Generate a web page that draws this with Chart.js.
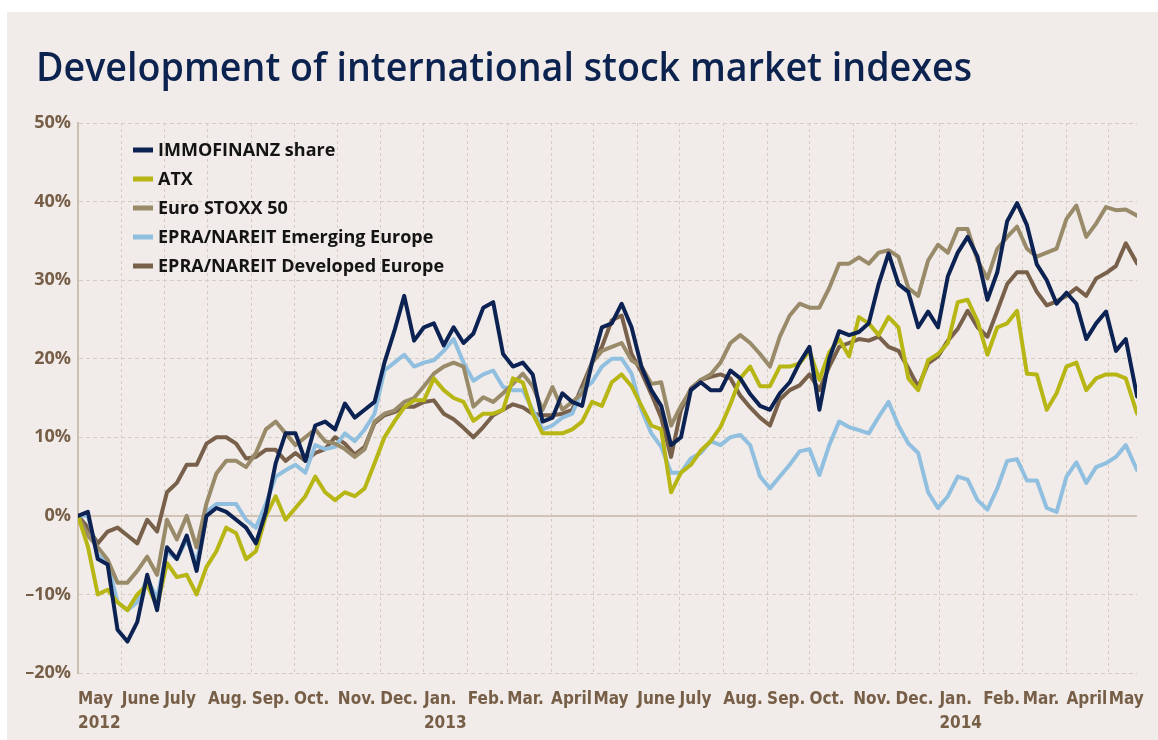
<!DOCTYPE html>
<html>
<head>
<meta charset="utf-8">
<title>Development of international stock market indexes</title>
<script src="https://cdn.jsdelivr.net/npm/chart.js@4.4.1/dist/chart.umd.min.js"></script>
<style>
  html, body { margin: 0; padding: 0; background: #fff; }
  #wrap { width: 1158px; height: 740px; }
</style>
</head>
<body>
<div id="wrap"><canvas id="chart" width="1158" height="740"></canvas></div>
<script>
// Days since 1 May 2012 (roughly weekly samples)
const days = [0,7,14,21,28,35,42,49,56,63,70,77,84,91,98,105,112,119,126,133,140,147,154,161,168,175,182,189,196,203,210,217,224,231,238,245,252,259,266,273,280,287,294,301,308,315,322,329,336,343,350,357,364,371,378,385,392,399,406,413,420,427,434,441,448,455,462,469,476,483,490,497,504,511,518,525,532,539,546,553,560,567,574,581,588,595,602,609,616,623,630,637,644,651,658,665,672,679,686,693,700,707,714,721,728,735,742,750];

// Performance in % relative to May 2012
const immofinanz = [0,0.5,-5.5,-6.2,-14.5,-16,-13.5,-7.5,-12,-4,
  -5.5,-2.5,-7,0,1,0.5,-0.5,-1.5,-3.5,0.5,
  6.7,10.5,10.5,7,11.5,12,11,14.3,12.5,13.5,
  14.5,19.5,23.5,28,22.3,24,24.5,21.7,24,22,
  23.2,26.5,27.2,20.6,19,19.5,18,12,12.5,15.6,
  14.5,14,19.5,24,24.5,27,24,19,16,14,
  9,10,16,17,16,16,18.5,17.5,15.5,14,
  13.5,15.6,17,19.5,21.5,13.5,20,23.5,23,23.4,
  24.5,29.5,33.4,29.5,28.5,24,26,24,30.5,33.5,
  35.5,33,27.5,31,37.5,39.8,37,32,30,27,
  28.4,27,22.5,24.5,26,21,22.5,15.2];

const atx = [0,-3.9,-10,-9.4,-11,-12,-10,-8.8,-11.5,-6,
  -7.8,-7.5,-10,-6.5,-4.5,-1.5,-2.2,-5.5,-4.5,0,
  2.5,-0.5,1,2.5,5,3,2,3,2.5,3.5,
  6.7,10,12,13.8,14.7,14.7,17.5,16,15,14.5,
  12.1,13,13,13.5,17.5,17,13,10.5,10.5,10.5,
  11,12,14.5,14,17,18,16.5,14,11.5,11,
  3,5.5,6.5,8.3,9.5,11.3,14.2,17.5,19,16.5,
  16.5,19,19,19.4,21,17.3,20.8,22.5,20.3,25.3,
  24.5,23,25.3,24,17.5,16,19.8,20.6,22,27.2,
  27.5,24.8,20.5,24,24.5,26.1,18.1,18,13.5,15.6,
  19,19.5,16,17.5,18,18,17.5,13];

const euroStoxx = [0,-2.5,-4,-5.6,-8.5,-8.5,-7,-5.2,-7.5,-0.5,
  -3,0,-4,1.6,5.4,7,7,6.2,8,11,
  12,10.5,9,10,11,9.5,9.2,8.5,7.5,8.5,
  12,13,13.4,14.5,15,16.5,18.1,19,19.5,19,
  13.9,15.1,14.5,15.6,16.8,18.1,16.5,13.5,16.4,13.5,
  14.5,15.6,19.5,21,21.5,22,19.8,19,16.8,17,
  11.5,14,16,17.3,18,19.5,22,23,22,20.6,
  19,22.8,25.5,27,26.5,26.5,29,32.1,32.1,32.9,
  32.1,33.5,33.8,33,29,28,32.5,34.5,33.5,36.5,
  36.5,32.5,30.2,34,35.5,36.8,34,33,33.5,34,
  37.8,39.5,35.5,37.2,39.3,38.9,39,38.2];

const epraEmerging = [0,0,-5,-6,-11,-12,-11,-8,-10.5,-4.5,
  -5.5,-3,-6,0.5,1.5,1.5,1.5,-0.5,-1.5,1.5,
  5,5.8,6.5,5.5,9,8.5,8.8,10.5,9.5,11,
  13,18.5,19.5,20.5,19,19.5,19.8,21,22.5,19.5,
  17.2,18,18.5,16.4,16,16,13.5,11,11.5,12.5,
  13,16,17,19,20,20,18.1,13.5,10.5,8.8,
  5.5,5.5,7.3,8,9.5,9,10,10.3,9,5,
  3.5,5,6.5,8.2,8.5,5.2,9,12,11.3,10.9,
  10.5,12.6,14.5,11.5,9.2,8,3,1,2.5,5,
  4.6,2,0.8,3.5,7,7.2,4.5,4.5,1,0.5,
  5,6.8,4.2,6.2,6.7,7.5,9,5.8];

const epraDeveloped = [0,-1.5,-3.5,-2,-1.5,-2.5,-3.5,-0.5,-2,3,
  4.2,6.5,6.5,9.2,10,10,9.2,7.3,7.5,8.4,
  8.4,7,8,7,8,8.5,10,9.2,7.8,8.8,
  11.8,12.8,13.2,13.9,13.9,14.5,14.7,13,12.3,11.2,
  10,11.3,12.8,13.5,14.2,13.8,13,12.8,12.8,13,
  13.5,16.5,19.5,21.5,24.9,25.5,20.6,18.3,15.5,12.5,
  7.5,13.5,16.2,17.3,17.7,18,17.5,15.3,13.8,12.5,
  11.5,14.8,16,16.6,18,16,19,21.5,22,22.5,
  22.3,22.8,21.5,21,18.8,16.4,19.4,20.3,22.3,23.8,
  26.1,24,22.8,26.1,29.5,31,31,28.5,26.8,27.3,
  28,29,28,30.2,30.9,31.8,34.7,32.1];

// Month starts (days since 1 May 2012) and their labels
const monthTicks = [0,31,61,92,123,153,184,214,245,276,304,335,365,396,426,457,488,518,549,579,610,641,669,700,730];
const monthLabels = [['May','2012'],'June','July','Aug.','Sep.','Oct.','Nov.','Dec.',['Jan.','2013'],'Feb.','Mar.','April',
  'May','June','July','Aug.','Sep.','Oct.','Nov.','Dec.',['Jan.','2014'],'Feb.','Mar.','April','May'];

const seriesNames = ['IMMOFINANZ share','ATX','Euro STOXX 50','EPRA/NAREIT Emerging Europe','EPRA/NAREIT Developed Europe'];
const seriesData = [immofinanz, atx, euroStoxx, epraEmerging, epraDeveloped];
const seriesColors = ['#0c2252','#b7b615','#998a69','#91bfe0','#78604a'];

const titleText = 'Development of international stock market indexes';
const axisBrown = '#775e47';
const labelFont = "'Liberation Sans Narrow', 'DejaVu Sans Condensed', 'Arial Narrow', sans-serif";

// background panel
const panelBg = {
  id: 'panelBg',
  beforeDraw(chart){
    const c = chart.ctx;
    c.save();
    c.fillStyle = '#ffffff';
    c.fillRect(0, 0, chart.width, chart.height);
    c.fillStyle = '#f1ece9';
    c.fillRect(7, 12, chart.width - 7, chart.height - 12);
    c.restore();
  }
};

// heading, squeezed to the width it has in the original
const heading = {
  id: 'heading',
  afterDraw(chart){
    const c = chart.ctx;
    c.save();
    c.font = "600 40px 'Open Sans', sans-serif";
    c.fillStyle = '#0c2350';
    c.textBaseline = 'alphabetic';
    const w = c.measureText(titleText).width;
    const target = 936;
    c.translate(36, 81);
    c.scale(target / w, 1);
    c.fillText(titleText, 0, 0);
    c.restore();
  }
};

// legend inside the plot, top left
const innerLegend = {
  id: 'innerLegend',
  afterDraw(chart){
    const c = chart.ctx;
    c.save();
    c.font = "bold 18px 'Open Sans', sans-serif";
    c.textBaseline = 'middle';
    chart.data.datasets.forEach((ds, i) => {
      const y = 150 + i * 29;
      c.fillStyle = ds.borderColor;
      c.fillRect(133, y - 2.5, 20, 5);
      c.fillStyle = '#141414';
      c.fillText(ds.label, 158, y + 1);
    });
    c.restore();
  }
};

const datasets = seriesNames.map((name, i) => ({
  label: name,
  data: days.map((d, j) => ({ x: d, y: seriesData[i][j] })),
  borderColor: seriesColors[i],
  backgroundColor: seriesColors[i],
  borderWidth: 4,
  borderJoinStyle: 'round',
  borderCapStyle: 'round',
  pointRadius: 0,
  tension: 0,
  fill: false
}));

new Chart(document.getElementById('chart'), {
  type: 'line',
  data: { datasets },
  options: {
    responsive: false,
    animation: false,
    devicePixelRatio: 1,
    layout: { padding: { top: 123, left: 7, right: 6, bottom: 0 } },
    plugins: {
      legend: { display: false },
      title: { display: false },
      tooltip: { enabled: false }
    },
    scales: {
      x: {
        type: 'linear',
        min: 0,
        max: 750,
        afterBuildTicks: s => { s.ticks = monthTicks.map(v => ({ value: v })); },
        afterFit: s => { s.height = 67; },
        ticks: {
          autoSkip: false,
          maxRotation: 0,
          minRotation: 0,
          align: 'start',
          padding: 14,
          color: axisBrown,
          font: { family: labelFont, size: 17, weight: 'bold', lineHeight: 1.45 },
          callback: (v, i) => monthLabels[i]
        },
        grid: { color: '#d6ccc1', lineWidth: 1, drawTicks: false },
        border: { display: false, dash: [3, 3] }
      },
      y: {
        min: -20,
        max: 50,
        afterFit: s => { s.width = 71; },
        ticks: {
          stepSize: 10,
          padding: 7,
          color: axisBrown,
          font: { family: "'Open Sans', sans-serif", size: 18, weight: 'bold' },
          callback: v => (v < 0 ? '\u2013' + Math.abs(v) : v) + '%'
        },
        grid: {
          drawTicks: false,
          color: ctx => ctx.tick && ctx.tick.value === 0 ? '#d2c4b5' : '#d6ccc1',
          lineWidth: ctx => ctx.tick && ctx.tick.value === 0 ? 2 : 1
        },
        border: {
          display: true,
          color: '#cdbfb0',
          width: 2,
          dash: ctx => ctx.tick && ctx.tick.value === 0 ? [] : [4, 3]
        }
      }
    }
  },
  plugins: [panelBg, heading, innerLegend]
});
</script>
</body>
</html>
